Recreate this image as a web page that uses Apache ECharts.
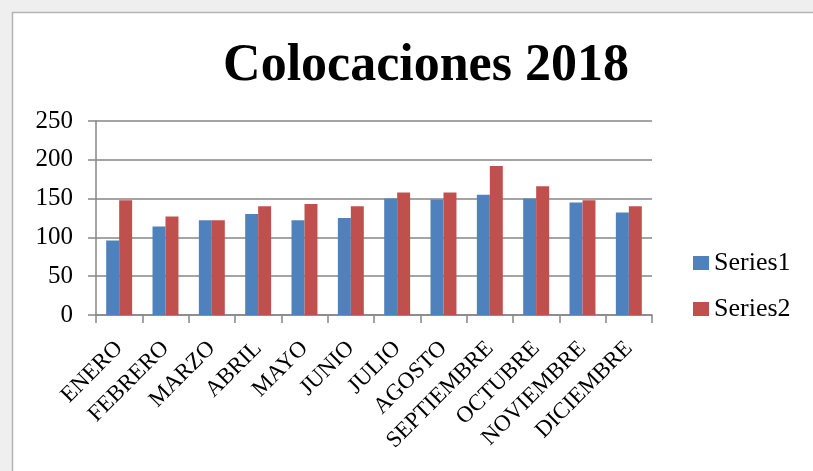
<!DOCTYPE html>
<html>
<head>
<meta charset="utf-8">
<script src="https://cdn.jsdelivr.net/npm/echarts@6/dist/echarts.min.js"></script>
<style>html,body{margin:0;padding:0;background:#fff;}#c{width:813px;height:471px;}</style>
</head>
<body>
<div id="c"></div>
<script>
const categories = ['ENERO','FEBRERO','MARZO','ABRIL','MAYO','JUNIO','JULIO','AGOSTO','SEPTIEMBRE','OCTUBRE','NOVIEMBRE','DICIEMBRE'];
const series1 = [96, 114, 122, 130, 122, 125, 150, 149, 155, 150, 145, 132];
const series2 = [148, 127, 122, 140, 143, 140, 158, 158, 192, 166, 148, 140];
const seriesNames = ['Series1', 'Series2'];
const yTicks = [0, 50, 100, 150, 200, 250];

const chart = echarts.init(document.getElementById('c'));
const serif = 'Liberation Serif';
chart.setOption({
  backgroundColor: '#efefef',
  animation: false,
  graphic: [{
    type: 'rect', z: -10, silent: true,
    shape: { x: 12.5, y: 12.5, width: 820, height: 480 },
    style: { fill: '#ffffff', stroke: '#b4b4b4', lineWidth: 1.5 }
  }],
  title: {
    text: 'Colocaciones 2018',
    left: 421, textAlign: 'center', top: 36,
    textStyle: { fontFamily: serif, fontWeight: 'bold', fontSize: 52, color: '#000' }
  },
  legend: {
    orient: 'vertical', left: 693, top: 250, padding: 0,
    itemWidth: 16, itemHeight: 14, itemGap: 20,
    icon: 'rect',
    textStyle: { fontFamily: serif, fontSize: 26, color: '#000' },
    data: seriesNames
  },
  grid: { left: 96, right: 161, top: 121, bottom: 156, containLabel: false },
  xAxis: {
    type: 'category', data: categories,
    axisLine: { lineStyle: { color: '#868686', width: 1.5 } },
    axisTick: { show: true, length: 8, alignWithLabel: false, lineStyle: { color: '#868686', width: 1.5 } },
    axisLabel: { rotate: 45, margin: 30, interval: 0, fontFamily: serif, fontSize: 23, color: '#000' }
  },
  yAxis: {
    type: 'value', min: yTicks[0], max: yTicks[yTicks.length - 1], interval: 50,
    axisLine: { show: true, lineStyle: { color: '#868686', width: 1.5 } },
    axisTick: { show: true, length: 8, lineStyle: { color: '#868686', width: 1.5 } },
    splitLine: { lineStyle: { color: '#868686', width: 1.5 } },
    axisLabel: { margin: 23, fontFamily: serif, fontSize: 25, color: '#000' }
  },
  series: [
    { name: seriesNames[0], type: 'bar', data: series1, barGap: '0%', barCategoryGap: '44%', itemStyle: { color: '#4F81BD' } },
    { name: seriesNames[1], type: 'bar', data: series2, barGap: '0%', barCategoryGap: '44%', itemStyle: { color: '#C0504D' } }
  ]
});
</script>
</body>
</html>
